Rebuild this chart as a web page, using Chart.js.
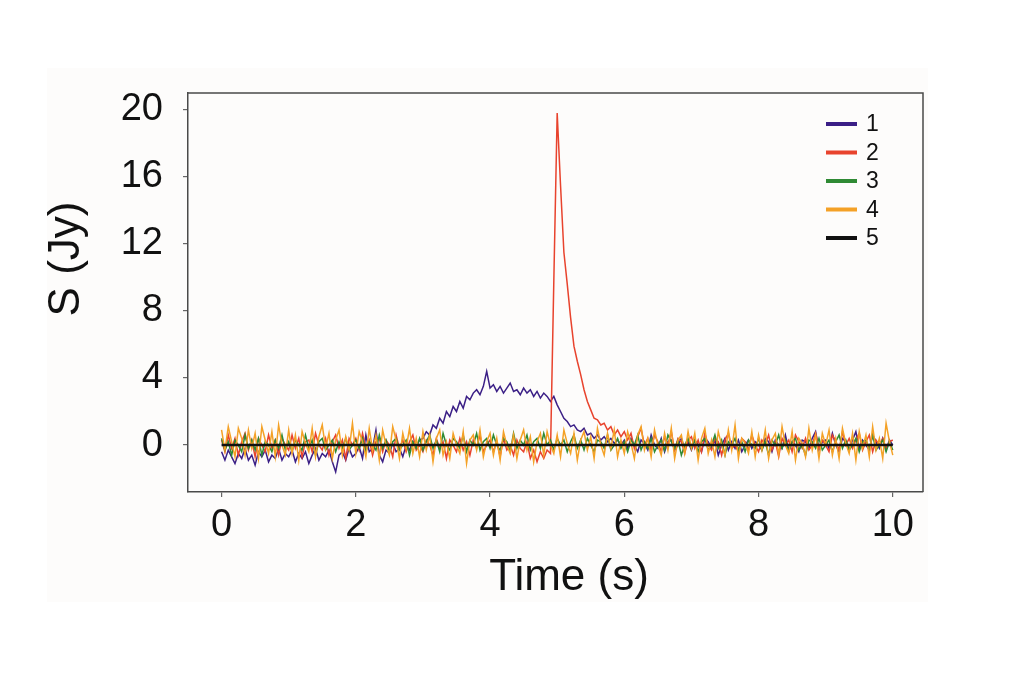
<!DOCTYPE html>
<html>
<head>
<meta charset="utf-8">
<script src="https://cdn.jsdelivr.net/npm/chart.js@4.4.1/dist/chart.umd.min.js"></script>
<style>
  html, body { margin: 0; padding: 0; background: #fff; }
  canvas { display: block; }
</style>
</head>
<body>
<canvas id="fluxChart" width="1024" height="683"></canvas>
<script>
// sampling step of the light curves (s)
const timeStep = 0.05;

const seriesNames = ['1', '2', '3', '4', '5'];
const seriesColors = ['#3b1f86', '#e8432d', '#2f8a34', '#f4a126', '#111111'];

// S (Jy), one value per 0.05 s from 0 to 10 s
const flux1 = [
  -0.4,-0.9,-0.3,-0.7,-1.1,-0.5,-0.8,-0.2,-0.9,-0.6,-1.2,-0.4,-0.7,-0.3,-1.0,-0.6,-0.8,-0.2,-0.9,-0.5,
  -0.7,-0.3,-1.0,-0.5,-0.8,-0.4,-1.1,-0.6,-0.2,-0.9,-0.5,-0.7,-0.3,-1.0,-1.6,-0.6,-0.4,-0.9,-0.2,-0.7,
  -0.5,-0.1,-0.8,0.6,-0.4,-0.2,0.9,-0.6,-1.0,-0.3,-0.5,0.1,-0.4,-0.2,-0.7,0.0,-0.3,0.2,-0.1,0.3,
  0.4,0.8,0.6,1.2,1.0,1.6,1.3,2.0,1.7,2.3,2.0,2.6,2.2,2.9,2.7,3.1,3.3,3.0,3.5,4.4,
  3.4,3.6,3.2,3.5,3.1,3.4,3.7,3.2,3.3,3.0,3.4,3.1,3.3,2.9,3.2,2.8,3.1,2.9,2.6,2.9,
  2.4,2.0,1.6,1.4,1.1,1.2,0.9,0.8,1.0,0.6,0.7,0.4,0.6,0.3,0.5,0.2,0.4,0.1,0.3,0.0,
  0.3,-0.2,0.4,0.0,-0.4,0.3,0.1,-0.3,0.6,0.0,-0.2,0.4,-0.4,0.2,0.3,-0.3,0.0,0.4,-0.2,0.2,
  -0.3,0.3,0.0,-0.4,0.4,0.2,-0.2,0.3,-0.6,0.0,0.4,-0.3,0.2,-0.2,0.3,-0.4,0.0,0.3,-0.2,0.2,
  0.0,-0.3,0.4,0.2,-0.4,0.3,0.0,-0.2,0.6,-0.3,0.2,0.0,-0.4,0.3,0.2,-0.2,0.4,0.8,-0.3,0.2,
  0.3,-0.2,0.7,0.0,-0.4,0.4,0.2,-0.3,0.3,0.8,-0.2,0.3,0.0,-0.3,0.6,0.2,-0.2,0.4,-0.3,0.3,
  0.0
];
const flux2 = [
  0.3,-0.4,0.6,-0.2,0.4,-0.6,0.2,0.7,-0.3,0.3,-0.7,0.4,0.0,-0.4,0.6,-0.2,0.3,-0.6,0.4,0.0,
  -0.3,0.6,-0.2,0.4,-0.7,0.2,0.3,-0.4,0.7,0.0,-0.3,0.4,-0.6,0.2,0.6,-0.2,0.3,-0.8,0.4,0.0,
  0.4,-0.3,0.7,-0.2,0.3,-0.6,0.2,0.4,-0.4,0.3,0.0,-0.7,0.6,-0.2,0.3,-0.4,0.2,0.6,-0.3,0.0,
  -0.4,0.3,0.0,-0.6,0.4,-0.2,0.2,-0.8,0.3,0.0,-0.4,0.4,-0.3,0.2,-0.6,0.3,-0.2,0.6,-0.4,0.0,
  0.3,-0.4,0.2,-0.7,0.4,-0.3,0.0,-0.6,0.3,-0.2,-0.4,0.2,-0.8,-0.3,-1.0,-0.4,-0.8,-0.3,-0.5,9.8,
  19.8,15.5,11.5,9.6,7.6,5.9,5.0,4.2,3.3,2.6,2.1,1.6,1.5,1.2,1.3,0.9,1.1,0.6,0.9,0.5,
  0.8,0.3,0.7,-0.2,0.5,1.0,0.0,0.4,-0.3,0.6,0.2,-0.4,0.5,0.0,0.8,-0.3,0.4,0.2,-0.5,0.3,
  0.5,-0.2,0.3,-0.4,0.7,0.0,-0.3,0.4,0.2,-0.6,0.3,0.7,-0.2,0.0,-0.4,0.4,0.2,-0.3,0.6,0.0,
  -0.4,0.3,0.0,0.6,-0.3,0.2,-0.7,0.4,0.0,0.3,-0.4,0.6,0.2,-0.2,0.4,-0.3,0.0,0.7,-0.2,0.3,
  0.0,-0.4,0.6,0.2,-0.3,0.8,0.0,0.4,-0.2,0.3,0.7,-0.3,0.2,0.6,-0.4,0.3,0.0,0.4,-0.2,0.2,
  0.3
];
const flux3 = [
  0.4,-0.3,0.2,-0.6,0.3,0.0,-0.4,0.6,-0.2,0.3,-0.3,0.4,-0.6,0.2,0.0,-0.4,0.3,-0.2,0.6,-0.3,
  0.2,-0.4,0.3,0.0,-0.3,0.6,-0.2,0.3,-0.6,0.2,0.4,-0.3,0.0,0.3,-0.4,0.2,-0.2,0.4,-0.3,0.0,
  0.3,-0.2,0.4,-0.4,0.2,0.0,-0.3,0.6,-0.2,0.3,-0.4,0.2,0.4,-0.3,0.0,0.3,-0.6,0.2,-0.2,0.4,
  -0.3,0.2,0.6,-0.2,0.3,-0.4,0.7,0.0,-0.3,0.4,0.2,-0.2,0.6,-0.4,0.3,0.0,0.7,-0.3,0.2,0.4,
  -0.2,0.6,0.0,-0.3,0.4,0.2,-0.4,0.7,-0.2,0.3,0.0,0.6,-0.3,0.2,0.4,-0.2,0.7,0.0,0.3,-0.3,
  0.4,0.0,0.3,-0.4,0.2,0.6,-0.2,0.3,-0.3,0.4,0.0,-0.4,0.3,0.2,-0.2,0.6,-0.3,0.0,0.4,-0.2,
  0.2,-0.4,0.3,0.0,0.6,-0.3,0.2,-0.2,0.4,-0.4,0.0,0.3,-0.3,0.6,0.2,-0.2,0.3,-0.6,0.0,0.4,
  -0.2,0.3,-0.4,0.2,0.4,-0.3,0.0,0.6,-0.2,0.3,-0.6,0.2,0.0,0.4,-0.3,0.2,-0.4,0.3,0.0,-0.2,
  0.4,-0.3,0.2,-0.6,0.3,0.0,0.6,-0.2,0.3,-0.4,0.2,0.4,-0.3,0.0,-0.6,0.3,0.2,-0.2,0.4,-0.3,
  0.0,0.3,-0.4,0.2,0.6,-0.2,0.3,-0.3,0.0,0.4,-0.4,0.2,0.3,-0.2,0.6,-0.3,0.0,0.3,-0.4,0.2,
  -0.3
];
const flux4 = [
  0.9,-0.3,1.1,0.2,-0.7,1.0,0.4,-0.6,0.9,-0.2,0.7,-0.8,1.1,0.3,-0.5,0.8,-0.7,1.2,0.0,-0.6,
  0.9,-0.5,0.6,-0.9,0.8,0.1,-0.4,1.0,-0.7,0.5,1.2,-0.2,0.7,-0.8,0.3,0.9,-0.6,0.5,-0.3,1.3,
  -0.5,0.8,0.2,-0.7,1.0,-0.3,0.6,-0.9,0.9,0.0,-0.6,1.1,0.3,-0.8,0.7,-0.2,1.0,-0.5,0.4,-0.7,
  0.8,-0.3,0.6,-1.0,0.4,0.9,-0.6,0.2,-0.8,0.7,0.0,-0.5,0.8,-1.1,0.3,0.6,-0.3,0.9,-0.7,0.2,
  0.7,-0.6,0.4,-0.9,0.8,0.0,-0.5,0.6,-0.8,0.3,0.9,-0.3,0.5,-1.0,0.2,0.7,-0.6,0.8,0.0,-0.5,
  0.6,-0.7,0.9,0.1,-0.5,0.7,-0.9,0.3,0.8,-0.3,0.5,-0.8,1.0,0.0,-0.6,0.7,-0.2,0.9,-0.7,0.3,
  -0.5,0.8,0.1,-0.8,0.6,1.1,-0.3,0.4,-0.7,0.9,0.0,-0.6,0.7,-0.3,1.0,-0.8,0.3,0.6,-0.5,0.8,
  -0.2,0.7,-0.9,0.4,1.0,-0.5,0.3,-0.7,0.8,0.0,-0.6,0.9,-0.3,1.2,-0.8,0.4,0.1,-0.5,0.8,-0.7,
  0.6,-0.3,0.9,-0.8,0.3,0.7,-0.6,1.1,0.0,-0.5,0.8,-0.9,0.4,0.1,-0.7,1.0,-0.3,0.6,-0.8,0.7,
  0.0,0.9,-0.6,0.4,-0.8,1.0,0.1,-0.5,0.7,-0.9,0.8,-0.2,0.6,-0.7,1.1,-0.3,0.4,-0.8,1.3,0.2,
  -0.6
];
// series 5 is flat at zero over the whole record
const flatTimes = [0, 10];
const flux5 = [0, 0];

const xTicks = [0, 2, 4, 6, 8, 10];
const yTicks = [0, 4, 8, 12, 16, 20];
const xTitle = 'Time (s)';
const yTitle = 'S (Jy)';

function toPoints(values) {
  return values.map((v, i) => ({ x: +(i * timeStep).toFixed(2), y: v }));
}

const fontFamily = "'Liberation Sans', Arial, Helvetica, sans-serif";

// faint off-white panel behind the figure
const panelBackground = {
  id: 'panelBackground',
  beforeDraw(chart) {
    const c = chart.ctx;
    c.save();
    c.fillStyle = '#fdfcfb';
    c.fillRect(47, 68, 881, 534);
    c.restore();
  }
};

// axis titles, top/right edges of the plot box, legend inside the plot
const boxAndLegend = {
  id: 'boxAndLegend',
  afterDraw(chart) {
    const c = chart.ctx;
    const a = chart.chartArea;
    c.save();
    c.strokeStyle = '#4a4a4a';
    c.lineWidth = 1.5;
    c.beginPath();
    c.moveTo(a.left, a.top);
    c.lineTo(a.right, a.top);
    c.lineTo(a.right, a.bottom);
    c.stroke();

    c.fillStyle = '#111';
    c.font = '44px ' + fontFamily;
    c.textAlign = 'center';
    c.textBaseline = 'alphabetic';
    c.fillText(xTitle, 569, 590);
    c.save();
    c.translate(79, 259);
    c.rotate(-Math.PI / 2);
    c.fillText(yTitle, 0, 0);
    c.restore();

    c.font = '23px ' + fontFamily;
    c.textBaseline = 'middle';
    c.textAlign = 'left';
    chart.data.datasets.forEach((ds, i) => {
      const y = a.top + 31 + i * 28.5;
      c.strokeStyle = ds.borderColor;
      c.lineWidth = 4;
      c.beginPath();
      c.moveTo(a.right - 97, y);
      c.lineTo(a.right - 66, y);
      c.stroke();
      c.fillStyle = '#111';
      c.fillText(ds.label, a.right - 57, y + 1);
    });
    c.restore();
  }
};

const ctx = document.getElementById('fluxChart').getContext('2d');

const fluxChart = new Chart(ctx, {
  type: 'line',
  data: {
    datasets: [
      { label: seriesNames[0], data: toPoints(flux1), borderColor: seriesColors[0], borderWidth: 1.5, order: 4 },
      { label: seriesNames[1], data: toPoints(flux2), borderColor: seriesColors[1], borderWidth: 1.5, order: 3 },
      { label: seriesNames[2], data: toPoints(flux3), borderColor: seriesColors[2], borderWidth: 1.5, order: 2 },
      { label: seriesNames[3], data: toPoints(flux4), borderColor: seriesColors[3], borderWidth: 1.5, order: 1 },
      {
        label: seriesNames[4],
        data: flatTimes.map((t, i) => ({ x: t, y: flux5[i] })),
        borderColor: seriesColors[4],
        borderWidth: 2.5,
        order: 0
      }
    ]
  },
  options: {
    responsive: false,
    animation: false,
    events: [],
    layout: { padding: { left: 0, top: 93, right: 101, bottom: 0 } },
    elements: {
      point: { radius: 0 },
      line: { tension: 0, fill: false }
    },
    plugins: {
      legend: { display: false },
      tooltip: { enabled: false }
    },
    scales: {
      x: {
        type: 'linear',
        min: -0.5,
        max: 10.45,
        afterBuildTicks: (scale) => { scale.ticks = xTicks.map(v => ({ value: v })); },
        afterFit: (scale) => { scale.height = 191; },
        ticks: {
          color: '#111',
          font: { family: fontFamily, size: 38 },
          padding: 6,
          maxRotation: 0
        },
        grid: { drawOnChartArea: false, drawTicks: true, tickLength: 5, color: '#666', lineWidth: 1.2 },
        border: { display: true, color: '#4a4a4a', width: 1.5 }
      },
      y: {
        type: 'linear',
        min: -2.8,
        max: 21,
        afterBuildTicks: (scale) => { scale.ticks = yTicks.map(v => ({ value: v })); },
        afterFit: (scale) => { scale.width = 188; },
        ticks: {
          color: '#111',
          font: { family: fontFamily, size: 38 },
          padding: 20
        },
        grid: { drawOnChartArea: false, drawTicks: true, tickLength: 5, color: '#666', lineWidth: 1.2 },
        border: { display: true, color: '#4a4a4a', width: 1.5 }
      }
    }
  },
  plugins: [panelBackground, boxAndLegend]
});
</script>
</body>
</html>
